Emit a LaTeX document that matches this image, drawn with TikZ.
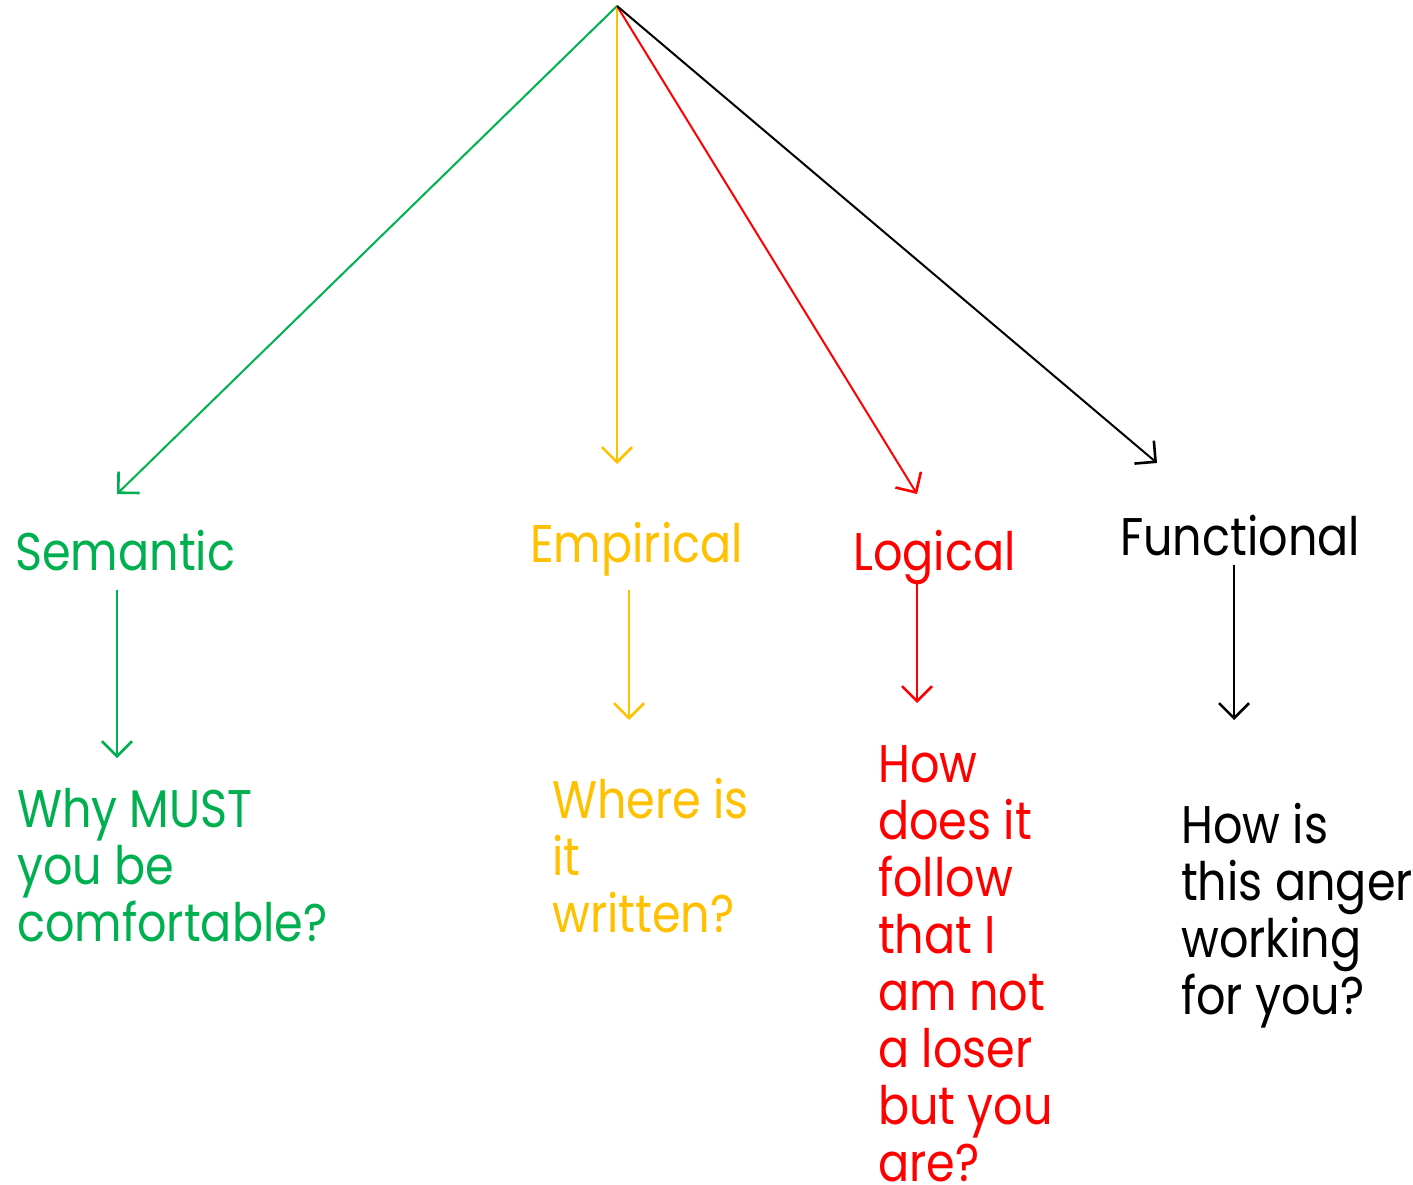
\documentclass[tikz,border=0pt]{standalone}
\usepackage{fontspec}
\setmainfont{Poppins}[FakeStretch=0.87]
\usetikzlibrary{arrows.meta}
\definecolor{cgreen}{HTML}{00B050}
\definecolor{cyellow}{HTML}{FFC000}
\definecolor{cred}{HTML}{FF0000}
\begin{document}
\begin{tikzpicture}[x=1pt,y=-1pt,
  conn/.style={line width=2pt,-{Straight Barb[length=15pt,width=30pt,line width=2.6pt]}},
  lbl/.style={anchor=base west,inner sep=0pt,font=\fontsize{53}{57}\selectfont},
  txt/.style={anchor=base west,inner sep=0pt,align=left,font=\fontsize{53}{57}\selectfont}]
\useasboundingbox (0,0) rectangle (1413,1185);
\coordinate (apex) at (617,6);
\coordinate (gt) at (117,494);
\coordinate (yt) at (617,464);
\coordinate (rt) at (917,494);
\coordinate (bt) at (1157,463);
\draw[conn,cgreen] (apex) -- (gt);
\draw[conn,cyellow] (apex) -- (yt);
\draw[conn,cred] (apex) -- (rt);
\draw[conn,black] (apex) -- (bt);
\node[lbl,text=cgreen] (sem) at (15,570) {Semantic};
\node[lbl,text=cyellow] (emp) at (530,562) {Empirical};
\node[lbl,text=cred] (log) at (853,570) {Logical};
\node[lbl,text=black] (fun) at (1120,555) {Functional};
\node[txt,text=cgreen] (semq) at (17,941) {Why MUST\\you be\\comfortable?};
\node[txt,text=cyellow] (empq) at (552,932) {Where is\\it\\written?};
\node[txt,text=cred] (logq) at (878,1181) {How\\does it\\follow\\that I\\am not\\a loser\\but you\\are?};
\node[txt,text=black] (funq) at (1181,1014) {How is\\this anger\\working\\for you?};
\coordinate (s1) at (117,590); \coordinate (s2) at (117,758);
\coordinate (e1) at (629,590); \coordinate (e2) at (629,720);
\coordinate (l1) at (917,582); \coordinate (l2) at (917,703);
\coordinate (f1) at (1234,565); \coordinate (f2) at (1234,720);
\draw[conn,cgreen] (s1) -- (s2);
\draw[conn,cyellow] (e1) -- (e2);
\draw[conn,cred] (l1) -- (l2);
\draw[conn,black] (f1) -- (f2);
\end{tikzpicture}
\end{document}
